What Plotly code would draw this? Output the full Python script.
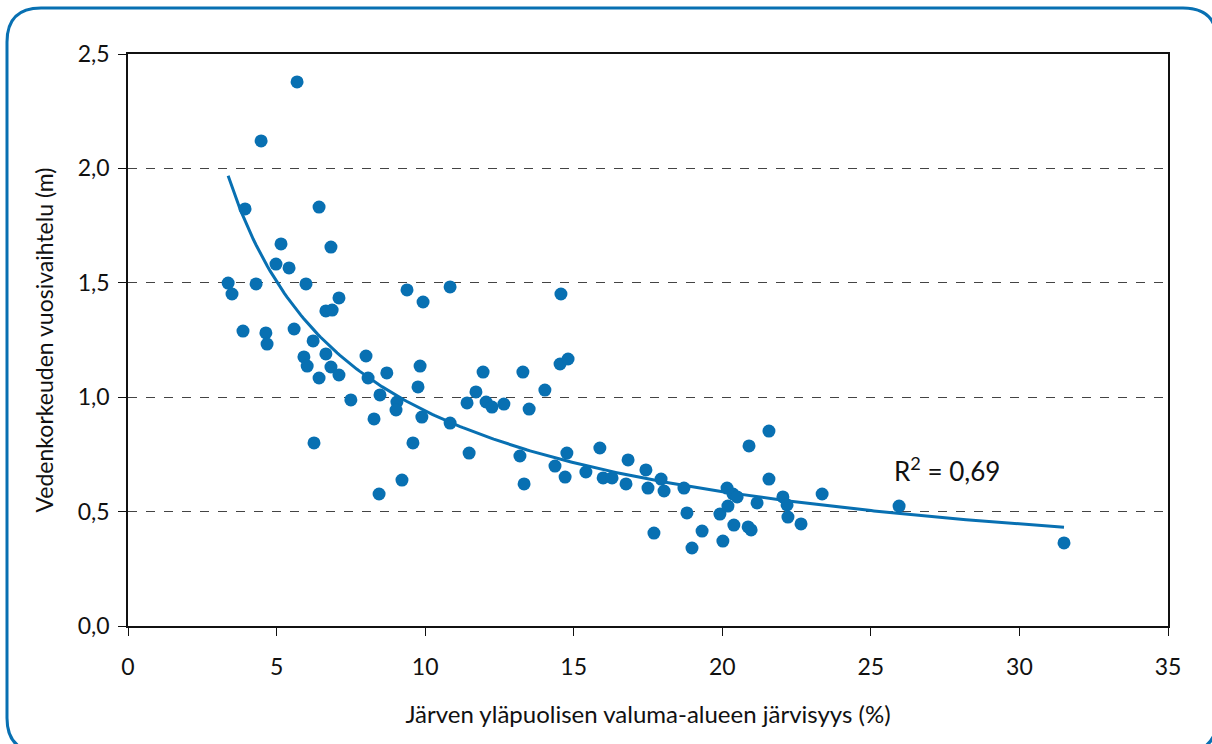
import numpy as np
import plotly.graph_objects as go

# Lake percentage of the upstream catchment (%) and annual water-level range (m)
jarvisyys = [
    5.69, 4.48, 3.94, 6.43, 5.15, 6.83, 5.42, 4.98, 3.37, 3.50,
    4.31, 5.99, 3.87, 4.64, 4.68, 5.59, 6.66, 6.87, 7.10, 6.23,
    5.92, 6.03, 6.66, 6.83, 7.10, 6.43, 7.50, 6.26, 8.01, 8.08,
    8.28, 8.48, 8.71, 9.05, 9.02, 9.22, 8.45, 9.39, 9.93, 9.83,
    9.76, 9.89, 9.59, 10.84, 10.84, 11.41, 11.48, 11.71, 11.95, 12.05,
    12.25, 12.65, 13.29, 13.19, 13.33, 13.50, 14.03, 14.57, 14.54, 14.81,
    14.37, 14.77, 14.71, 15.41, 15.88, 15.99, 16.29, 16.76, 16.83, 17.43,
    17.50, 17.70, 17.94, 18.04, 18.71, 18.81, 18.98, 19.32, 19.92, 20.02,
    20.16, 20.19, 20.36, 20.50, 20.39, 20.90, 20.87, 20.97, 21.17, 21.57,
    21.57, 22.04, 22.18, 22.21, 22.65, 23.36, 25.95, 31.50,
]
vuosivaihtelu = [
    2.378, 2.120, 1.823, 1.831, 1.670, 1.656, 1.565, 1.582, 1.499, 1.451,
    1.495, 1.495, 1.289, 1.281, 1.232, 1.298, 1.377, 1.381, 1.434, 1.246,
    1.176, 1.136, 1.189, 1.132, 1.097, 1.084, 0.988, 0.800, 1.180, 1.084,
    0.905, 1.010, 1.106, 0.979, 0.944, 0.638, 0.577, 1.469, 1.416, 1.136,
    1.045, 0.913, 0.800, 1.482, 0.887, 0.975, 0.756, 1.023, 1.110, 0.979,
    0.957, 0.970, 1.110, 0.743, 0.621, 0.948, 1.031, 1.451, 1.145, 1.167,
    0.699, 0.756, 0.651, 0.673, 0.778, 0.647, 0.647, 0.621, 0.726, 0.682,
    0.603, 0.406, 0.642, 0.590, 0.603, 0.494, 0.341, 0.415, 0.489, 0.371,
    0.603, 0.524, 0.577, 0.564, 0.441, 0.787, 0.433, 0.420, 0.538, 0.852,
    0.642, 0.564, 0.529, 0.476, 0.446, 0.577, 0.524, 0.363,
]

x_ticks = [0, 5, 10, 15, 20, 25, 30, 35]
y_ticks = [0.0, 0.5, 1.0, 1.5, 2.0, 2.5]
r2_label = "R<sup>2</sup> = 0,69"

BLUE = "#0870b2"
FONT = "Lato"
FS = 23

# Power-law trend y = a * x^b fitted in log-log space
xa = np.array(jarvisyys)
ya = np.array(vuosivaihtelu)
b, ln_a = np.polyfit(np.log(xa), np.log(ya), 1)
a = np.exp(ln_a)
x_fit = np.linspace(xa.min(), xa.max(), 300)
y_fit = a * x_fit ** b

fig = go.Figure()
fig.add_trace(go.Scatter(
    x=x_fit, y=y_fit, mode="lines",
    line=dict(color=BLUE, width=3), hoverinfo="skip", showlegend=False,
))
fig.add_trace(go.Scatter(
    x=jarvisyys, y=vuosivaihtelu, mode="markers",
    marker=dict(color=BLUE, size=13, line=dict(width=0)), showlegend=False,
))

fig.add_annotation(
    x=27.55, y=0.685, text=r2_label, showarrow=False,
    font=dict(family=FONT, size=26, color="#111"),
)

W, H = 1212, 744
L, R, T, B = 128, 44, 54, 118
pw, ph = W - L - R, H - T - B

def px_to_paper(px, py):
    return (px - L) / pw, (H - B - py) / ph

# Rounded frame around the whole graphic
x0, y0, x1, y1, rad = 7, 8, 1217, 752, 34
pts = [
    ("M", [(x0, y0 + rad)]),
    ("Q", [(x0, y0), (x0 + rad, y0)]),
    ("L", [(x1 - rad, y0)]),
    ("Q", [(x1, y0), (x1, y0 + rad)]),
    ("L", [(x1, y1 - rad)]),
    ("Q", [(x1, y1), (x1 - rad, y1)]),
    ("L", [(x0 + rad, y1)]),
    ("Q", [(x0, y1), (x0, y1 - rad)]),
]
path = ""
for cmd, coords in pts:
    path += cmd + " " + " ".join("%.5f,%.5f" % px_to_paper(*c) for c in coords) + " "
path += "Z"
fig.add_shape(type="path", path=path, xref="paper", yref="paper",
              line=dict(color=BLUE, width=3), layer="below")

axis_common = dict(
    showline=True, linecolor="#111", linewidth=1.5, mirror=True,
    ticks="outside", ticklen=8, tickcolor="#111", tickwidth=1,
    tickfont=dict(family=FONT, size=FS, color="#111"),
    zeroline=False,
)
fig.update_xaxes(
    range=[0, 35], tickvals=x_ticks, showgrid=False, ticklabelstandoff=12,
    title=dict(text="Järven yläpuolisen valuma-alueen järvisyys (%)",
               font=dict(family=FONT, size=24, color="#111"), standoff=27),
    **axis_common,
)
fig.update_yaxes(
    range=[0, 2.5], tickvals=y_ticks, tickformat=".1f", ticklabelstandoff=4,
    showgrid=True, gridcolor="#444", griddash="dash", gridwidth=1,
    title=dict(text="Vedenkorkeuden vuosivaihtelu (m)",
               font=dict(family=FONT, size=FS, color="#111"), standoff=18),
    **axis_common,
)

fig.update_layout(
    width=W, height=H, autosize=False,
    margin=dict(l=L, r=R, t=T, b=B),
    paper_bgcolor="white", plot_bgcolor="white",
    separators=",.",
    font=dict(family=FONT),
)

fig.write_html("out.html")
